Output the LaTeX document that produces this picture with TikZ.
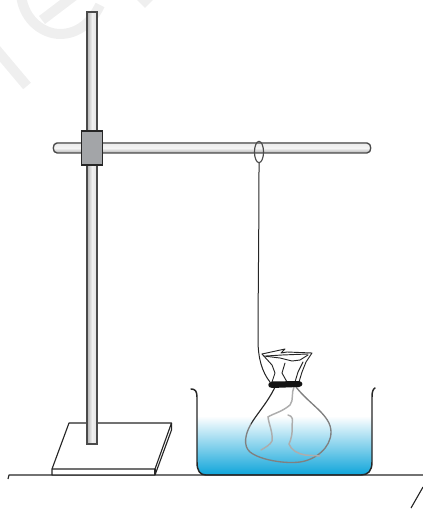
\documentclass[tikz,border=0pt]{standalone}
\usetikzlibrary{shapes.geometric}
\definecolor{waterblue}{HTML}{0FA5DA}
\definecolor{clampgrey}{HTML}{A3A5A8}
\definecolor{rodedge}{HTML}{4A4A4A}
\definecolor{wm}{HTML}{EFEFEF}
\tikzset{
  rodline/.style={draw=rodedge,line width=1pt},
  inkline/.style={draw=black!85,line width=0.85pt,line join=round},
  bagdark/.style={draw=black!85,line width=0.85pt,line cap=round},
  baggrey/.style={draw=black!50,line width=1pt,line cap=round},
  foldline/.style={draw=black!32,line width=1.1pt,line cap=round},
  paperline/.style={draw=black!85,line width=0.7pt,line join=round,line cap=round},
}
\begin{document}
\begin{tikzpicture}[x=0.75pt,y=-0.75pt]
\useasboundingbox (0,0) rectangle (423,509);
% faint watermark
\begin{scope}
\clip (0,0) rectangle (423,509);
\draw[wm,line width=7.5pt] (21,-5) .. controls (24,22) and (45,34) .. (60,34) .. controls (78,34) and (92,22) .. (100,5);
\draw[wm,line width=7.5pt] (42,20) -- (75,-5);
\draw[wm,line width=7.5pt] (-5,48) -- (27,86);
\fill[wm] (135,-2) -- (155,-2) -- (145,8) -- cycle;
\end{scope}
% water
\shade[top color=white,bottom color=waterblue,middle color=waterblue!50]
  (197,416) -- (372,416) -- (372,462) .. controls (372,471) and (368,475) .. (361,475)
  -- (206,475) .. controls (200,475) and (197,471) .. (197,462) -- cycle;
% table
\coordinate (tl) at (8,479);
\coordinate (tc) at (9,475);
\coordinate (tr) at (423,475);
\draw[inkline] (tl) -- (tc) -- (tr);
\coordinate (ca) at (411,508);
\coordinate (cb) at (423,487);
\draw[inkline] (ca) -- (cb);
% base
\draw[inkline,fill=white] (69,423) -- (171.5,423) -- (171.5,430) -- (155,475) -- (52,475) -- (52,469) -- cycle;
\draw[inkline] (52,469) -- (155,469) -- (171.5,423);
\draw[inkline] (155,469) -- (155,475);
% vertical rod
\shade[left color=black!30,right color=black!12,middle color=black!6] (87,12) rectangle (97,444);
\draw[rodline] (87,12) rectangle (97,444);
% horizontal rod
\shade[top color=black!8,bottom color=black!30,middle color=black!4] (54,143) rectangle (370,153);
\fill[white] (52,142) -- (55,142) .. controls (52,143) and (52,153) .. (55,154) -- (52,154) -- cycle;
\fill[white] (372,142) -- (368,142) .. controls (372,143) and (372,153) .. (368,154) -- (372,154) -- cycle;
\draw[rodline] (57,143) -- (367,143) .. controls (372,143) and (372,153) .. (367,153) -- (57,153) .. controls (52,153) and (52,143) .. (57,143) -- cycle;
% clamp
\node[draw=black!85,line width=0.9pt,fill=clampgrey,minimum width=15.75pt,minimum height=25.5pt,inner sep=0pt,anchor=center] (clamp) at (92,148) {};
% loop and string
\node[draw=rodedge,line width=0.85pt,ellipse,minimum width=6.8pt,minimum height=16pt,inner sep=0pt] (loop) at (259,152) {};
\coordinate (knot) at (270,382);
\draw[inkline,line width=0.75pt] (loop.south) .. controls (259,230) and (258,300) .. (258,340)
  .. controls (258,358) and (262,372) .. (knot);
% beaker
\draw[line width=1.1pt,draw=black!85,line cap=round] (191,389) .. controls (195,389) and (197,391) .. (197,397)
  -- (197,462) .. controls (197,471) and (200,475) .. (206,475) -- (361,475)
  .. controls (368,475) and (372,471) .. (372,462) -- (372,397) .. controls (372,392) and (373,389) .. (375,388);
% bag
\draw[bagdark] (275,387) .. controls (268,402) and (256,415) .. (251,424);
\draw[baggrey] (251,424) .. controls (245,434) and (243,446) .. (250,452)
  .. controls (260,460) and (285,464) .. (300,462)
  .. controls (315,460) and (331,448) .. (331,432)
  .. controls (331,415) and (310,405) .. (296,387);
% folds
\draw[foldline] (294,387) .. controls (291,393) and (294,400) .. (290,405) .. controls (282,412) and (272,414) .. (268,417)
  .. controls (269,425) and (273,432) .. (272,441) .. controls (270,445) and (266,447) .. (261,450);
\draw[foldline] (288,415) .. controls (293,416) and (293,420) .. (292,425) .. controls (293,432) and (291,440) .. (289,444)
  .. controls (291,450) and (298,454) .. (305,455) -- (320,456);
% paper top
\draw[paperline] (262,354) -- (285,349) -- (281,353) -- (287,352) -- (312,353) -- (306,362) -- (302,372) -- (299,382);
\draw[paperline] (262,354) -- (272,365) -- (275,373) -- (272,382);
\draw[paperline] (264,356) -- (280,358) -- (292,361) -- (300,360) -- (308,355);
\draw[paperline] (266,356) -- (282,355) -- (308,354);
\draw[paperline] (285,363) -- (282,373) -- (287,382);
\draw[paperline] (303,362) -- (298,372) -- (295,382);
% tie
\fill[black!92] (272,381.5) .. controls (267,382) and (267,388) .. (272,388) -- (299,387) .. controls (303.5,386.5) and (303.5,381.5) .. (299,381) -- cycle;
\end{tikzpicture}
\end{document}
